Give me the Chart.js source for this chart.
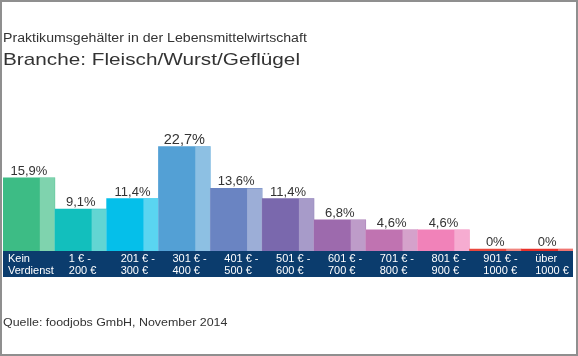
<!DOCTYPE html>
<html>
<head>
<meta charset="utf-8">
<script src="https://cdn.jsdelivr.net/npm/chart.js@4"></script>
<style>
  html, body { margin: 0; padding: 0; background: #fff; }
  #wrap { position: relative; width: 578px; height: 356px; overflow: hidden; }
  #c { position: absolute; left: 0; top: 0; }
  .txt { position: absolute; left: 3px; white-space: nowrap; line-height: 1; color: #333;
         font-family: "Liberation Sans", Arial, sans-serif; transform-origin: 0 0; }
  #t1 { top: 32px; font-size: 12.5px; transform: scaleX(1.13); }
  #t2 { top: 50.5px; font-size: 17px; transform: scaleX(1.22); }
  #src { top: 317px; font-size: 11.5px; transform: scaleX(1.08); }
</style>
</head>
<body>
<div id="wrap">
  <canvas id="c" width="578" height="356"></canvas>
  <div class="txt" id="t1">Praktikumsgehälter in der Lebensmittelwirtschaft</div>
  <div class="txt" id="t2">Branche: Fleisch/Wurst/Geflügel</div>
  <div class="txt" id="src">Quelle: foodjobs GmbH, November 2014</div>
</div>
<script>
const categories = [
  ["Kein", "Verdienst"],
  ["1 € -", "200 €"],
  ["201 € -", "300 €"],
  ["301 € -", "400 €"],
  ["401 € -", "500 €"],
  ["501 € -", "600 €"],
  ["601 € -", "700 €"],
  ["701 € -", "800 €"],
  ["801 € -", "900 €"],
  ["901 € -", "1000 €"],
  ["über", "1000 €"]
];
const values = [15.9, 9.1, 11.4, 22.7, 13.6, 11.4, 6.8, 4.6, 4.6, 0, 0];
const valueLabels = ["15,9%", "9,1%", "11,4%", "22,7%", "13,6%", "11,4%", "6,8%", "4,6%", "4,6%", "0%", "0%"];
const barColors = ["#3dbc85", "#12bfbd", "#05bfea", "#53a0d5", "#6a84c2", "#7a68ad", "#9d6aad", "#c073b1", "#f182b9", "#e9473d", "#e8302a"];

const FONT = '"Liberation Sans", Arial, sans-serif';

const decoPlugin = {
  id: 'deco',
  beforeDatasetsDraw(chart) {
    const ctx = chart.ctx, a = chart.chartArea;
    ctx.save();
    ctx.fillStyle = '#0b3c6d';
    ctx.fillRect(a.left, a.bottom, a.right - a.left, 26);
    ctx.restore();
  },
  afterDatasetsDraw(chart) {
    const ctx = chart.ctx, a = chart.chartArea;
    const meta = chart.getDatasetMeta(0);
    const xs = chart.scales.x;
    const n = categories.length;
    const catW = (a.right - a.left) / n;
    ctx.save();
    // lighter right part of each bar
    meta.data.forEach((el) => {
      const p = el.getProps(['x', 'y', 'base', 'width'], true);
      const left = p.x - p.width / 2;
      const top = Math.min(p.y, p.base), h = Math.abs(p.base - p.y);
      ctx.fillStyle = 'rgba(255,255,255,0.34)';
      ctx.fillRect(left + p.width * 0.71, top, p.width * 0.29, h);
    });
    // value labels
    ctx.fillStyle = '#333';
    ctx.textAlign = 'center';
    ctx.textBaseline = 'alphabetic';
    meta.data.forEach((el, i) => {
      const p = el.getProps(['x', 'y'], true);
      ctx.font = (values[i] === Math.max(...values) ? '14.5px ' : '13px ') + FONT;
      ctx.fillText(valueLabels[i], p.x, p.y - 3);
    });
    // category labels in the band
    ctx.fillStyle = '#ffffff';
    ctx.textAlign = 'left';
    ctx.textBaseline = 'middle';
    ctx.font = '11px ' + FONT;
    categories.forEach((lines, i) => {
      const cx = xs.getPixelForValue(i);
      const left = cx - catW / 2;
      const maxW = Math.max(...lines.map(l => ctx.measureText(l).width));
      const x = left + Math.min(14, Math.max(3, catW - maxW - 1));
      lines.forEach((l, j) => ctx.fillText(l, x, a.bottom + 8 + j * 12));
    });
    ctx.restore();
  },
  afterDraw(chart) {
    const ctx = chart.ctx;
    ctx.save();
    ctx.strokeStyle = '#8f8f8f';
    ctx.lineWidth = 2;
    ctx.strokeRect(1, 1, 576, 354);
    ctx.restore();
  }
};

new Chart(document.getElementById('c'), {
  type: 'bar',
  data: {
    labels: categories,
    datasets: [{
      data: values,
      backgroundColor: barColors,
      borderWidth: 0,
      categoryPercentage: 1,
      barPercentage: 1,
      minBarLength: 2
    }]
  },
  options: {
    responsive: false,
    animation: false,
    events: [],
    layout: { padding: { left: 3, right: 5, top: 113, bottom: 105 } },
    scales: {
      x: { display: false },
      y: { display: false, min: 0, max: 30 }
    },
    plugins: { legend: { display: false }, tooltip: { enabled: false } }
  },
  plugins: [decoPlugin]
});
</script>
</body>
</html>
